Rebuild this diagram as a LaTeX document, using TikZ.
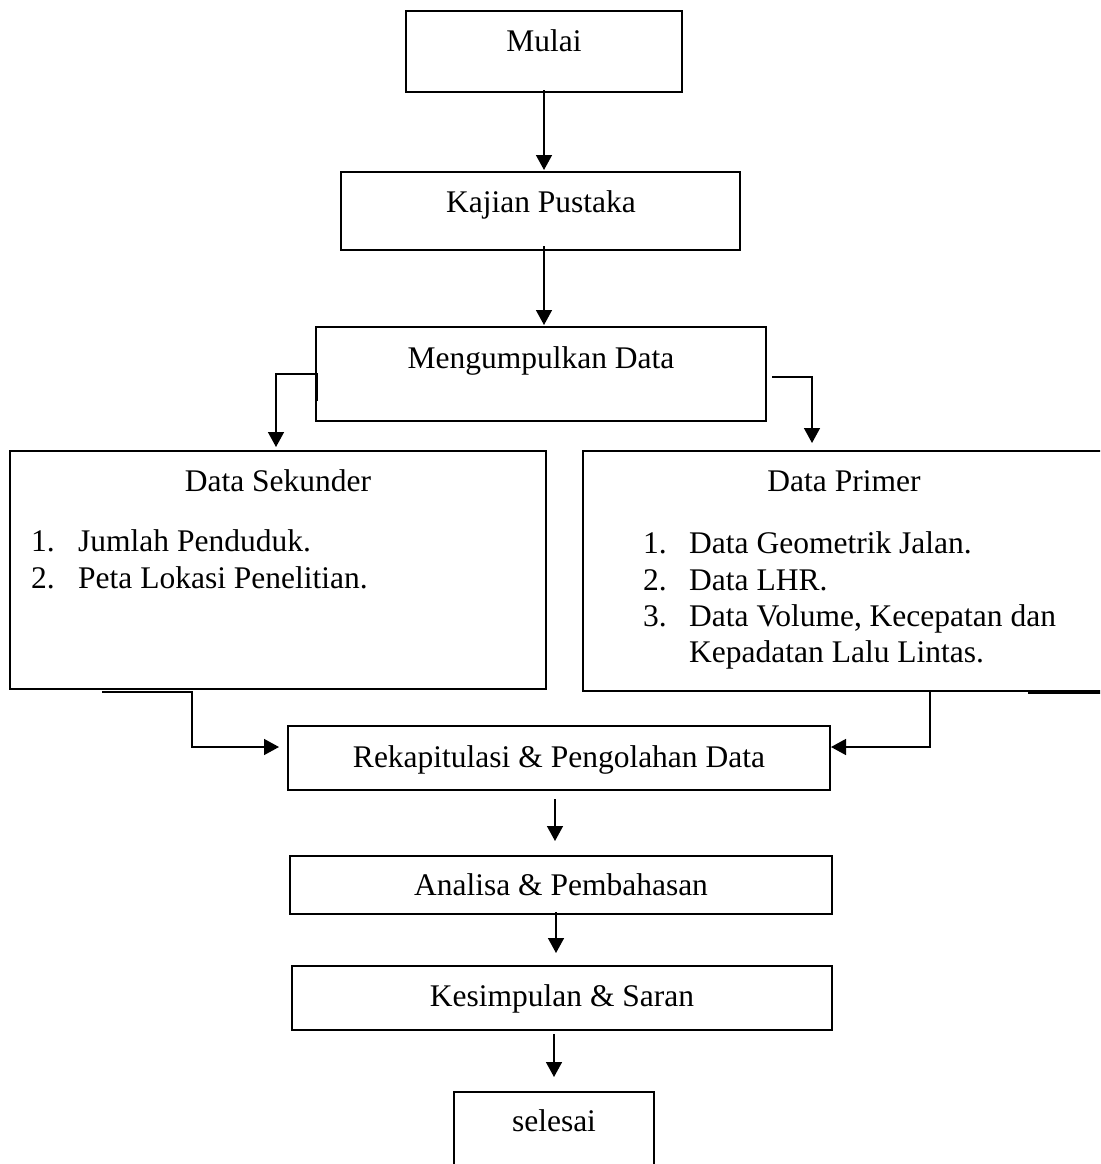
\documentclass[tikz,border=0pt]{standalone}
\usepackage{fontspec}
\setmainfont{Liberation Serif}
\usetikzlibrary{arrows.meta}
\begin{document}
\begin{tikzpicture}[x=1pt,y=-1pt,
  box/.style={draw,line width=1.8pt,inner sep=0pt,outer sep=0pt,anchor=north west},
  txt/.style={inner sep=0pt,anchor=base,font=\fontsize{31.5}{36}\selectfont},
  ltxt/.style={inner sep=0pt,anchor=base west,font=\fontsize{31.5}{36}\selectfont},
  conn/.style={line width=1.5pt,-{Triangle[width=16pt,length=15pt]}},
  plainline/.style={line width=1.5pt}]
\useasboundingbox (0,0) rectangle (1100,1164);
\clip (0,0) rectangle (1100,1164);
% boxes
\node[box,minimum width=276pt,minimum height=81pt] (mulai) at (406,11) {};
\node[box,minimum width=399pt,minimum height=78pt] (kajian) at (341,172) {};
\node[box,minimum width=450pt,minimum height=94pt] (mg) at (316,327) {};
\node[box,minimum width=536pt,minimum height=238pt] (sk) at (10,451) {};
\node[box,minimum width=530pt,minimum height=240pt] (pr) at (583,451) {};
\node[box,minimum width=542pt,minimum height=64pt] (rk) at (288,726) {};
\node[box,minimum width=542pt,minimum height=58pt] (an) at (290,856) {};
\node[box,minimum width=540pt,minimum height=64pt] (ks) at (292,966) {};
\node[box,minimum width=200pt,minimum height=100pt] (sl) at (454,1092) {};
% texts
\node[txt] (tmulai) at (544,52) {Mulai};
\node[txt] (tkajian) at (541,212) {Kajian Pustaka};
\node[txt] (tmg) at (541,368) {Mengumpulkan Data};
\node[txt] (tsk) at (278,491) {Data Sekunder};
\node[ltxt] (sk1n) at (31,551) {1.};
\node[ltxt] (sk1) at (78,551) {Jumlah Penduduk.};
\node[ltxt] (sk2n) at (31,588) {2.};
\node[ltxt] (sk2) at (78,588) {Peta Lokasi Penelitian.};
\node[txt] (tpr) at (844,491) {Data Primer};
\node[ltxt] (pr1n) at (643,553) {1.};
\node[ltxt] (pr1) at (689,553) {Data Geometrik Jalan.};
\node[ltxt] (pr2n) at (643,590) {2.};
\node[ltxt] (pr2) at (689,590) {Data LHR.};
\node[ltxt] (pr3n) at (643,626) {3.};
\node[ltxt] (pr3) at (689,626) {Data Volume, Kecepatan dan};
\node[ltxt] (pr3b) at (689,662) {Kepadatan Lalu Lintas.};
\node[txt] (trk) at (559,767) {Rekapitulasi \& Pengolahan Data};
\node[txt] (tan) at (561,895) {Analisa \& Pembahasan};
\node[txt] (tks) at (562,1006) {Kesimpulan \& Saran};
\node[txt] (tsl) at (554,1131) {selesai};
% connectors
\draw[conn] ([yshift=2pt]mulai.south) -- ([xshift=3.5pt,yshift=2pt]kajian.north);
\draw[conn] ([xshift=3.5pt,yshift=4pt]kajian.south) -- ([xshift=3pt,yshift=2pt]mg.north);
\draw[conn] ([xshift=1.5pt,yshift=-27pt]mg.west) -- ([xshift=1.5pt]mg.west) -- ([xshift=-40pt]mg.west) -- ([xshift=-2pt,yshift=4pt]sk.north);
\draw[conn] ([xshift=6pt,yshift=-3pt]mg.east) -- ([xshift=46pt,yshift=-3pt]mg.east) -- ([xshift=-36pt,yshift=8pt]pr.north);
\draw[conn] ([xshift=92pt,yshift=-3pt]sk.south west) -- ([xshift=182pt,yshift=-3pt]sk.south west) -- ([xshift=182pt,yshift=-58pt]sk.south west) -- ([xshift=-9pt,yshift=-21pt]rk.north west);
\draw[plainline] ([xshift=445pt,yshift=-2pt]pr.south west) -- ([xshift=530pt,yshift=-2pt]pr.south west);
\draw[conn] ([xshift=347pt]pr.south west) -- ([xshift=347pt,yshift=-56pt]pr.south west) -- ([xshift=1pt,yshift=-21pt]rk.north east);
\draw[conn] ([xshift=-4pt,yshift=-9pt]rk.south) -- ([xshift=-6pt,yshift=15pt]an.north);
\draw[conn] ([xshift=-5pt,yshift=2pt]an.south) -- ([xshift=-6pt,yshift=13pt]ks.north);
\draw[conn] ([xshift=-8pt,yshift=-4pt]ks.south) -- ([yshift=15pt]sl.north);
\end{tikzpicture}
\end{document}
